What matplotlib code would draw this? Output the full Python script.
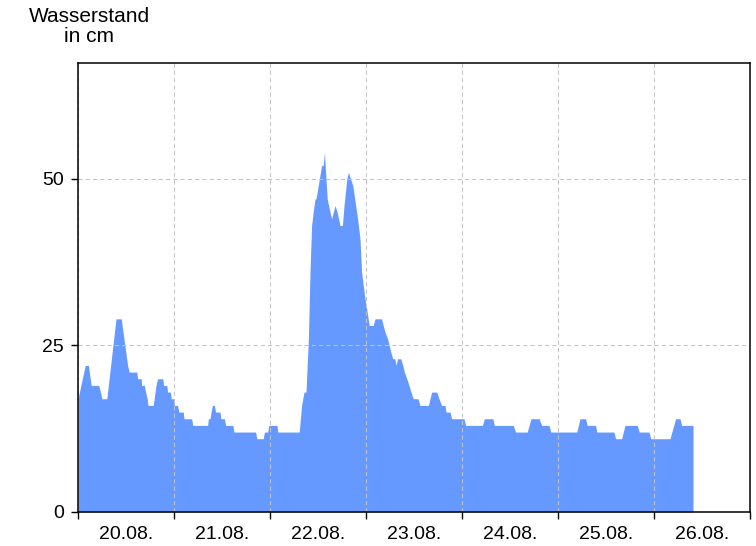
import matplotlib
matplotlib.use("Agg")
from matplotlib import pyplot as plt
from matplotlib.ticker import FixedLocator, NullFormatter

plt.rcParams['font.family'] = ['Liberation Sans', 'DejaVu Sans']

# Hours since 20.08. 00:00 and water level in cm
hours = [0, 1.8, 2.6, 3.3, 5.2, 6.0, 7.2, 9.5, 10.8, 12.4, 12.8, 14.7, 14.9, 15.8, 15.9,
         16.6, 16.9, 17.3, 17.5, 18.8, 19.5, 19.9, 21.2, 21.4, 22.2, 22.4, 23.1, 23.3, 23.9]
hours += [24.1, 24.9, 25.2, 26.3, 26.5, 28.4, 28.7, 32.4, 32.6, 33.0, 33.25, 33.6, 34.1,
          34.4, 35.5, 35.7, 36.6, 36.9, 38.7, 39.0, 44.4, 44.7, 46.3, 46.6, 47.4, 47.7]
hours += [49.75, 49.95, 55.3, 55.9, 56.5, 57.0, 57.6, 58.0, 58.4, 58.8,
          59.25, 59.5, 60.9, 61.3, 61.6, 62.3, 63.0, 63.4, 64.25, 64.8,
          65.5, 66.1, 66.5, 67.2, 67.6, 68.7, 69.9, 70.5, 70.9, 71.75]
hours += [72.3, 72.8, 73.8, 74.25, 75.9, 76.3, 76.75, 77.4, 78.2, 78.7,
          79.25, 79.5, 79.9, 80.7, 81.2, 81.6, 82.2, 82.75, 83.25, 83.8,
          85.0, 85.5, 87.6, 88.0, 88.4, 89.7, 90.25, 90.9, 91.75, 92.0, 93.0, 93.4]
hours += [96.5, 96.9, 101.1, 101.6, 103.7, 104.1, 108.8, 109.4, 112.3, 113.25,
          115.3, 115.9, 117.75, 118.2, 124.7, 125.5, 126.9, 127.3, 129.4, 129.7,
          134.0, 134.4, 135.9, 136.75, 139.8, 140.3, 142.75, 143.2, 148.0, 149.4,
          150.5, 150.9, 153.75]

levels = [17, 22, 22, 19, 19, 17, 17, 29, 29, 22, 21, 21, 20, 20, 19,
          19, 18, 17, 16, 16, 19, 20, 20, 19, 19, 18, 18, 17, 17]
levels += [16, 16, 15, 15, 14, 14, 13, 13, 14, 14, 15, 16, 16,
           15, 15, 14, 14, 13, 13, 12, 12, 11, 11, 12, 12, 13]
levels += [13, 12, 12, 16, 18, 18, 26, 36, 43, 45,
           47, 47, 52, 52, 54, 47, 45, 44, 46, 45,
           43, 43, 46, 50, 51, 49, 44, 41, 36, 32]
levels += [30, 28, 28, 29, 29, 28, 27, 26, 24, 23,
           23, 22, 23, 23, 22, 21, 20, 19, 18, 17,
           17, 16, 16, 17, 18, 18, 17, 16, 16, 15, 15, 14]
levels += [14, 13, 13, 14, 14, 13, 13, 12, 12, 14,
           14, 13, 13, 12, 12, 14, 14, 13, 13, 12,
           12, 11, 11, 13, 13, 12, 12, 11, 11, 14,
           14, 13, 13]

day_labels = ["20.08.", "21.08.", "22.08.", "23.08.", "24.08.", "25.08.", "26.08."]
y_ticks = [0, 25, 50]

fig = plt.figure(figsize=(7.56, 5.46), dpi=100)
ax = fig.add_axes([78 / 756, 34 / 546, 672 / 756, 449 / 546])

ax.fill_between(hours, levels, 0, color="#6699ff", linewidth=0, zorder=1)

ax.set_xlim(0, 24 * len(day_labels))
ax.set_ylim(0, 67.4)

# day boundaries as major ticks (no label), day names at noon
ax.xaxis.set_major_locator(FixedLocator([24 * i for i in range(len(day_labels) + 1)]))
ax.xaxis.set_major_formatter(NullFormatter())
ax.set_xticks([24 * i + 12 for i in range(len(day_labels))], day_labels, minor=True)
ax.tick_params(axis="x", which="minor", length=0, pad=10, labelsize=14)
ax.tick_params(axis="x", which="major", length=5, width=1, direction="out")

ax.set_yticks(y_ticks)
ax.tick_params(axis="y", length=5, width=1, direction="out", pad=5, labelsize=14)

ax.grid(True, which="major", color="#c4c4c4", linestyle=(0, (4, 3)), linewidth=0.75)
ax.set_axisbelow(False)
for s in ax.spines.values():
    s.set_linewidth(1.1)
    s.set_zorder(3)

fig.text(89 / 756, 1 - 7 / 546, "Wasserstand\nin cm", ha="center", va="top",
         fontsize=15, linespacing=1.08)

plt.savefig("out.png", dpi=100)
